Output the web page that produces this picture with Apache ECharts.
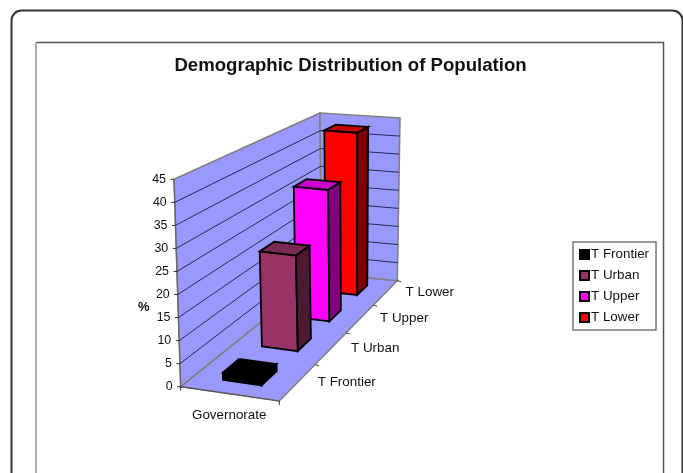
<!DOCTYPE html>
<html>
<head>
<meta charset="utf-8">
<script src="https://cdn.jsdelivr.net/npm/echarts@6/dist/echarts.min.js"></script>
<style>
html, body { margin: 0; padding: 0; background: #fff; overflow: hidden; }
#main { width: 683px; height: 473px; }
</style>
</head>
<body>
<div id="main"></div>
<script>
var categories = ['T Frontier', 'T Urban', 'T Upper', 'T Lower'];
var values = [1.6, 22.5, 33, 43.3];
var yTicks = [0, 5, 10, 15, 20, 25, 30, 35, 40, 45];
var groupName = 'Governorate';

// front, top and side shades of each bar
var frontColors = ['#000000', '#993366', '#ff00ff', '#ff0000'];
var topColors = ['#000000', '#7a2952', '#cc00cc', '#c40000'];
var sideColors = ['#000000', '#4d1a33', '#800080', '#800000'];

var font = '"Liberation Sans", Arial, sans-serif';

// corners of the 3D box on the page
var A = [180.7, 386.7], B = [279.3, 401], C = [397.3, 280.7], D = [321.7, 273];
var E = [174, 179.3], H = [272.5, 190], F = [320, 113], G = [400, 118];
var depthRatio = 1.3; // perspective, back of the box against the front

function mix(p, q, k) {
    return [p[0] + (q[0] - p[0]) * k, p[1] + (q[1] - p[1]) * k];
}

// u across, t into the depth, h up, all 0..1
function proj(u, t, h) {
    var tw = t * depthRatio / (1 - t + t * depthRatio);
    var front = mix(mix(A, B, u), mix(E, H, u), h);
    var back = mix(mix(D, C, u), mix(F, G, u), h);
    return mix(front, back, tw);
}

// turn a value through the hidden axes into t and h
function unfold(params, api, i, v) {
    var p = api.coord([i, v]);
    var cs = params.coordSys;
    return {
        t: (p[0] - cs.x) / cs.width,
        h: (cs.y + cs.height - p[1]) / cs.height,
        band: api.size([1, 0])[0] / cs.width
    };
}

function poly(points, fill, stroke, width) {
    return {
        type: 'polygon',
        shape: { points: points },
        style: { fill: fill, stroke: stroke, lineWidth: width, lineJoin: 'miter' }
    };
}

function line(points, stroke, width) {
    return {
        type: 'polyline',
        shape: { points: points },
        style: { fill: 'none', stroke: stroke, lineWidth: width }
    };
}

function label(text, x, y, align, size) {
    return {
        type: 'text',
        style: {
            text: text, x: x, y: y, align: align, verticalAlign: 'middle',
            font: size + 'px ' + font, fill: '#111'
        }
    };
}

function renderBox(params, api) {
    return {
        type: 'group',
        children: [
            poly([proj(0, 0, 0), proj(1, 0, 0), proj(1, 1, 0), proj(0, 1, 0)], '#9999ff', '#808080', 1.6),
            poly([proj(0, 0, 0), proj(0, 0, 1), proj(0, 1, 1), proj(0, 1, 0)], '#9999ff', '#808080', 1.6),
            poly([proj(0, 1, 0), proj(0, 1, 1), proj(1, 1, 1), proj(1, 1, 0)], '#9999ff', '#808080', 1.6),
            line([proj(0, 0, 0), proj(1, 0, 0)], '#555', 1.2),
            line([proj(0, 0, 0), proj(0, 0, 1)], '#666', 1.2),
            line([[A[0], A[1]], [A[0], A[1] + 4]], '#333', 1),
            line([[B[0], B[1]], [B[0], B[1] + 4]], '#333', 1)
        ]
    };
}

function renderGridLine(params, api) {
    var v = api.value(1);
    var q = unfold(params, api, 0, v);
    var left = proj(0, 0, q.h);
    var children = [
        line([left, [left[0] - 3.5, left[1]]], '#333', 1),
        label(String(v), left[0] - 8, left[1], 'right', 12.4)
    ];
    if (v > 0 && v < 45) {
        children.push(line([left, proj(0, 1, q.h), proj(1, 1, q.h)], '#2a2a50', 1));
    }
    return { type: 'group', children: children };
}

function renderDepth(params, api) {
    var i = api.value(0);
    var q = unfold(params, api, i, 0);
    var edge = proj(1, q.t + q.band / 2, 0);
    var mid = proj(1, q.t, 0);
    return {
        type: 'group',
        children: [
            line([edge, [edge[0] + 4, edge[1] + 1]], '#444', 1),
            label(categories[i], mid[0] + 20, mid[1], 'left', 13.4)
        ]
    };
}

function renderBar(colorIndex) {
    return function (params, api) {
        var q = unfold(params, api, api.value(0), api.value(1));
        var t0 = q.t - q.band * 0.2, t1 = q.t + q.band * 0.2;
        var u0 = 0.3, u1 = 0.7, h = q.h;
        return {
            type: 'group',
            children: [
                poly([proj(u0, t0, 0), proj(u1, t0, 0), proj(u1, t0, h), proj(u0, t0, h)], frontColors[colorIndex], '#000', 1.8),
                poly([proj(u1, t0, 0), proj(u1, t1, 0), proj(u1, t1, h), proj(u1, t0, h)], sideColors[colorIndex], '#000', 1.8),
                poly([proj(u0, t0, h), proj(u1, t0, h), proj(u1, t1, h), proj(u0, t1, h)], topColors[colorIndex], '#000', 1.8)
            ]
        };
    };
}

var series = [
    { name: 'box', type: 'custom', z: 1, data: [[0, 0]], renderItem: renderBox },
    { name: 'grid', type: 'custom', z: 2, data: yTicks.map(function (v) { return [0, v]; }), renderItem: renderGridLine },
    { name: 'depth', type: 'custom', z: 2, data: categories.map(function (c, i) { return [i, 0]; }), renderItem: renderDepth }
];
categories.forEach(function (name, i) {
    series.push({
        name: name,
        type: 'custom',
        z: 10 - i, // nearest bar on top
        itemStyle: { color: frontColors[i], borderColor: '#000', borderWidth: 1 },
        data: [[i, values[i]]],
        renderItem: renderBar(i)
    });
});

var chart = echarts.init(document.getElementById('main'));
chart.setOption({
    animation: false,
    backgroundColor: '#fff',
    title: {
        text: 'Demographic Distribution of Population',
        left: 350.5, top: 56, textAlign: 'center', padding: 0,
        textStyle: { fontFamily: font, fontSize: 18.6, fontWeight: 'bold', color: '#111' }
    },
    legend: {
        data: categories,
        orient: 'vertical',
        left: 573, top: 242,
        padding: [6, 7, 6, 6],
        itemWidth: 9, itemHeight: 9, itemGap: 8,
        borderColor: '#777', borderWidth: 1.5,
        backgroundColor: '#fff',
        icon: 'rect',
        textStyle: { fontFamily: font, fontSize: 13.4, color: '#111', padding: [0, 0, 0, -3] }
    },
    grid: { left: 180, top: 179, width: 220, height: 207 },
    xAxis: { type: 'category', data: categories, show: false },
    yAxis: { type: 'value', min: 0, max: 45, interval: 5, show: false },
    graphic: [
        { type: 'rect', z: -1, shape: { x: 11.5, y: 10.5, width: 671, height: 520, r: 10 }, style: { fill: 'none', stroke: '#333', lineWidth: 2 } },
        { type: 'polyline', z: -1, shape: { points: [[36, 42.5], [663.5, 42.5], [663.5, 480]] }, style: { fill: 'none', stroke: '#555', lineWidth: 1.5 } },
        { type: 'line', z: -1, shape: { x1: 36, y1: 42, x2: 36, y2: 480 }, style: { stroke: '#aaa', lineWidth: 2 } },
        { type: 'text', left: 138, top: 301, style: { text: '%', font: 'bold 13px ' + font, fill: '#111' } },
        { type: 'text', left: 192, top: 409, style: { text: groupName, font: '13.4px ' + font, fill: '#111' } }
    ],
    series: series
});
</script>
</body>
</html>
